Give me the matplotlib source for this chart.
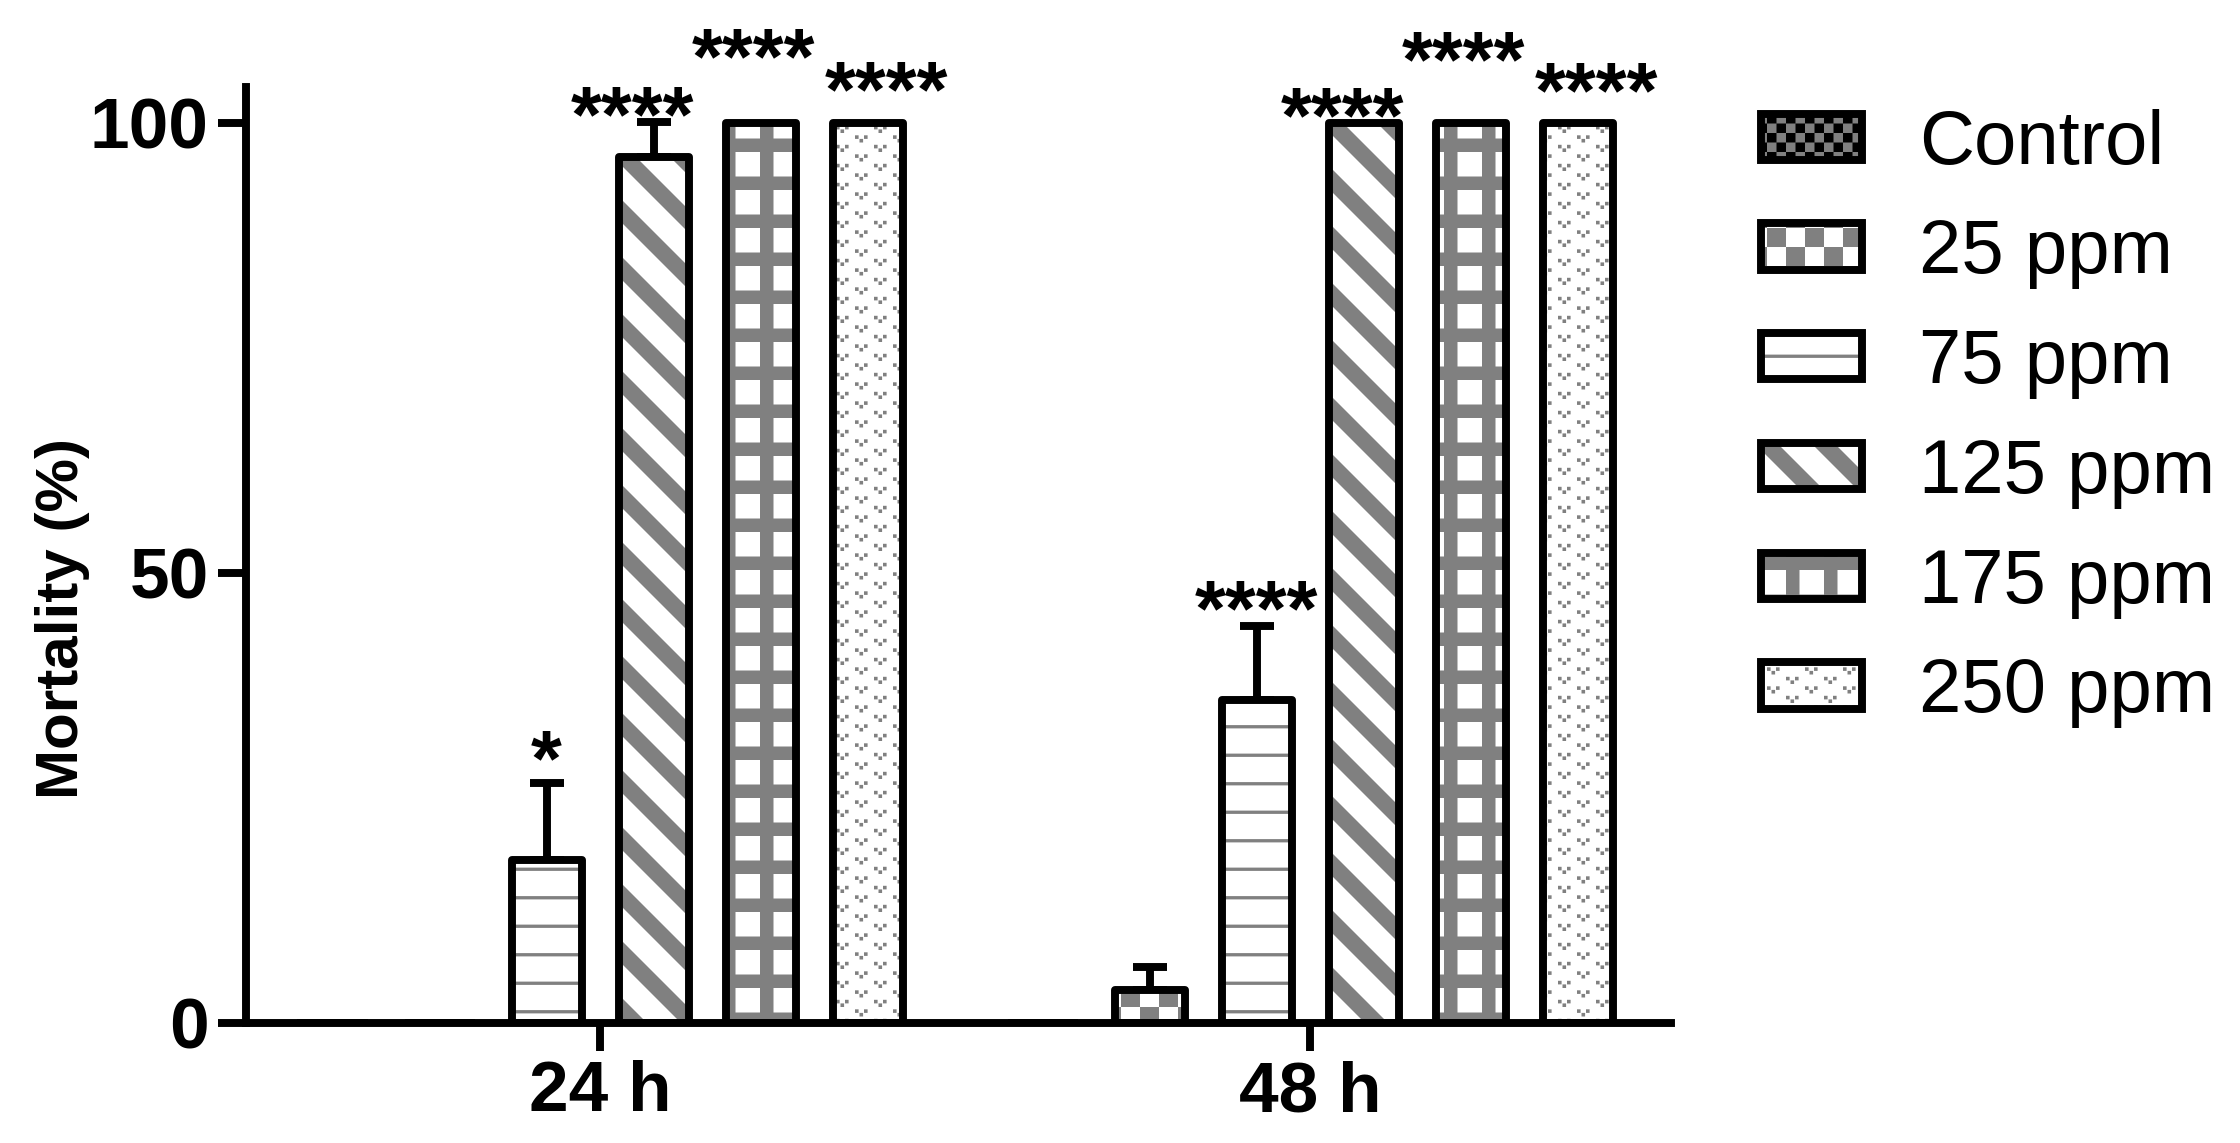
import warnings
import numpy as np
import matplotlib
matplotlib.use('Agg')
import matplotlib.pyplot as plt
import matplotlib.hatch as mhatch
from matplotlib.path import Path
from matplotlib.patches import Patch
from matplotlib.legend_handler import HandlerTuple

warnings.filterwarnings('ignore')

# data
groups = ['24 h', '48 h']
doses = ['Control', '25 ppm', '75 ppm', '125 ppm', '175 ppm', '250 ppm']
mean_24h = [0, 0, 18.1, 96.2, 100, 100]
sd_24h = [0, 0, 8.6, 3.9, 0, 0]
mean_48h = [0, 3.7, 35.9, 100, 100, 100]
sd_48h = [0, 2.5, 8.2, 0, 0, 0]
stars_24h = ['', '', '*', '****', '****', '****']
stars_48h = ['', '', '****', '****', '****', '****']
# height of the star marks (centre of the glyphs, % units)
star_y_24h = [0, 0, 31.3, 102.8, 109.3, 105.6]
star_y_48h = [0, 0, 47.9, 102.7, 108.9, 105.5]

GRAY = '#808080'
DPI = 114
T = DPI  # agg hatch tile is one inch

plt.rcParams['font.family'] = 'Liberation Sans'
plt.rcParams['hatch.linewidth'] = 0.0


# --- tile patterns (GraphPad style fills) ---
def quad(pts):
    return [(px / T, py / T) for px, py in pts]


def rect(x0, y0, w, h):
    return quad([(x0, y0), (x0 + w, y0), (x0 + w, y0 + h), (x0, y0 + h)])


def checker(cell):
    n = int(round(T / cell))
    return [rect(i * cell, j * cell, cell, cell)
            for i in range(n) for j in range(n) if (i + j) % 2 == 0]


def hlines(step, th):
    n = int(round(T / step))
    return [rect(-2, k * step + step / 2 - th / 2, T + 4, th) for k in range(n)]


def diag(n, th):
    p = T / n
    out = []
    for k in range(-1, 2 * n + 2):
        c = k * p
        out.append(quad([(-10, c + 10), (T + 10, c - T - 10),
                         (T + 10, c - T - 10 + th), (-10, c + 10 + th)]))
    return out


def grid(step, th):
    n = int(round(T / step))
    out = []
    for j in range(n):
        y0 = j * step
        out.append(rect(-2, y0, T + 4, th))
        for i in range(n):
            out.append(rect(i * step, y0 + th, th, step - th))
    return out


def vees(dx, dy, s):
    rows = int(round(T / dy))
    cols = int(round(T / dx))
    out = []
    for r in range(rows):
        shift = dx / 2 if r % 2 else 0
        for c in range(-1, cols + 1):
            x0 = c * dx + shift
            y0 = r * dy
            out.append(rect(x0, y0 + s, s, s))
            out.append(rect(x0 + 1.25 * s, y0, s, s))
            out.append(rect(x0 + 2.5 * s, y0 + s, s, s))
    return out


TILES = {
    'k': checker(T / 12),
    'c': checker(T / 6),
    'h': hlines(T / 4, 3.3),
    'd': diag(2, 23),
    'g': grid(T / 3, 13.5),
    'v': vees(T / 3, T / 12, 3.6),
}


class TileHatch(mhatch.HatchPatternBase):
    def __init__(self, hatch, density):
        self.polys = []
        for key, polys in TILES.items():
            if key in hatch:
                self.polys += polys
        self.num_vertices = 5 * len(self.polys)

    def set_vertices_and_codes(self, vertices, codes):
        for i, poly in enumerate(self.polys):
            vertices[5 * i:5 * i + 4] = poly
            vertices[5 * i + 4] = poly[0]
            codes[5 * i] = Path.MOVETO
            codes[5 * i + 1:5 * i + 4] = Path.LINETO
            codes[5 * i + 4] = Path.CLOSEPOLY


mhatch._hatch_types.append(TileHatch)

hatches = ['k', 'c', 'h', 'd', 'g', 'v']
faces = ['black', 'white', 'white', 'white', 'white', 'white']
star_dx = [0, 0, 0, -0.03, -0.01, 0.027]

fig = plt.figure(figsize=(2240 / DPI, 1143 / DPI), dpi=DPI)
ax = fig.add_axes([0.1098, 0.105, 0.6362, 0.8190])

x = np.arange(len(groups))
step = 0.1507
width = 0.0986

for i, dose in enumerate(doses):
    pos = x + (i - 2.5) * step
    vals = np.array([mean_24h[i], mean_48h[i]])
    errs = np.array([sd_24h[i], sd_48h[i]])
    ax.bar(pos, vals, width, color=faces[i], edgecolor=GRAY, hatch=hatches[i],
           linewidth=0, zorder=2)
    ax.bar(pos, vals, width, facecolor='none', edgecolor='black', linewidth=5,
           joinstyle='round', zorder=3)
    m = errs > 0
    if m.any():
        ax.errorbar(pos[m], vals[m], yerr=[np.zeros(m.sum()), errs[m]], fmt='none',
                    ecolor='black', elinewidth=5, capsize=11, capthick=5, zorder=1)
    for g, (s, sy) in enumerate(zip([stars_24h[i], stars_48h[i]],
                                    [star_y_24h[i], star_y_48h[i]])):
        if s:
            ax.text(pos[g] + star_dx[i], sy - 4.85, s, ha='center', va='baseline',
                    fontsize=50, fontweight='bold')

ax.set_xlim(-0.4986, 1.508)
ax.set_ylim(0, 104)
ax.set_yticks([0, 50, 100])
ax.set_xticks(x, groups)
ax.tick_params(width=5, length=17.5, pad=6, labelsize=45)
for lab in ax.get_xticklabels() + ax.get_yticklabels():
    lab.set_fontweight('bold')
for side in ['top', 'right']:
    ax.spines[side].set_visible(False)
for side in ['left', 'bottom']:
    ax.spines[side].set_linewidth(5)

ax.set_ylabel('Mortality (%)', fontsize=38, fontweight='bold')
ax.yaxis.set_label_coords(-0.1095, 0.432)

handles = []
for i in range(len(doses)):
    hp = Patch(facecolor=faces[i], edgecolor=GRAY, hatch=hatches[i], linewidth=0)
    op = Patch(facecolor='none', edgecolor='black', linewidth=5, joinstyle='round')
    handles.append((hp, op))
ax.legend(handles, doses, handler_map={tuple: HandlerTuple(ndivide=1, pad=0)},
          loc='upper left', bbox_to_anchor=(0.786, 0.905),
          bbox_transform=fig.transFigure, frameon=False, fontsize=48,
          borderpad=0, borderaxespad=0, handlelength=1.34, handleheight=0.56,
          handletextpad=0.75, labelspacing=0.51)

fig.savefig('out.png', dpi=DPI, facecolor='white')
